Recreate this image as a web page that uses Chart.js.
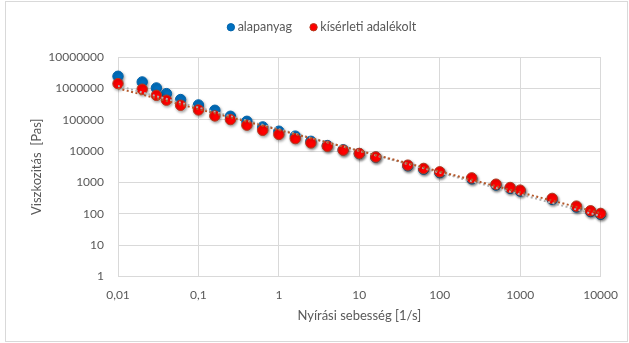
<!DOCTYPE html>
<html>
<head>
<meta charset="utf-8">
<script src="https://cdn.jsdelivr.net/npm/chart.js@4.4.1/dist/chart.umd.min.js"></script>
<style>
  html, body { margin: 0; padding: 0; background: #ffffff; }
  #wrap { position: relative; width: 629px; height: 343px; }
  #frame { position: absolute; left: 5px; top: 1px; width: 621px; height: 339px; border: 1px solid #d9d9d9; }
  #c { position: absolute; left: 0; top: 0; }
</style>
</head>
<body>
<div id="wrap">
  <div id="frame"></div>
  <canvas id="c" width="629" height="343"></canvas>
</div>
<script>
// Shear rate [1/s] of each measurement point
const shearRates = [0.01, 0.02, 0.03, 0.04, 0.06, 0.1, 0.16, 0.25, 0.4, 0.63, 1, 1.6, 2.5, 4, 6.3, 10, 16,
                    40, 63, 100, 250, 500, 750, 1000, 2500, 5000, 7500, 10000];

// Viscosity [Pas] – base material
const viscBase = [2.43e6, 1.6e6, 1.03e6, 6.8e5, 4.4e5, 2.96e5, 2.0e5, 1.29e5, 8.9e4, 5.9e4, 4.3e4, 3.0e4, 2.05e4,
                  1.5e4, 1.1e4, 8.3e3, 6.4e3, 3.4e3, 2.65e3, 2.05e3, 1.3e3, 830, 650, 530, 290, 165, 118, 97];

// Viscosity [Pas] – experimental, with additive
const viscAdditive = [1.42e6, 9.4e5, 6.0e5, 4.2e5, 2.9e5, 2.05e5, 1.32e5, 1.01e5, 6.7e4, 4.6e4, 3.4e4, 2.5e4, 1.82e4,
                      1.43e4, 1.07e4, 8.4e3, 6.5e3, 3.56e3, 2.8e3, 2.18e3, 1.4e3, 880, 690, 570, 310, 176, 125, 103];

// Power trend lines (straight in log–log), given by their end points
const trendShear = [0.01, 10000];
const trendBase = [1.2e6, 85];
const trendAdditive = [1.0e6, 105];

// Axis ticks and their labels
const xTickValues = [0.01, 0.1, 1, 10, 100, 1000, 10000];
const xTickLabels = ['0,01', '0,1', '1', '10', '100', '1000', '10000'];
const yTickValues = [1, 10, 100, 1000, 10000, 100000, 1000000, 10000000];
const yTickLabels = ['1', '10', '100', '1000', '10000', '100000', '1000000', '10000000'];

const seriesNames = ['alapanyag', 'kísérleti adalékolt'];

const textColor = '#595959';
const gridColor = '#d9d9d9';
const fontFamily = 'Lato, "Open Sans", sans-serif';

const toPoints = (xs, ys) => xs.map((x, i) => ({ x: x, y: ys[i] }));

// Soft drop shadow under the markers
const markerShadow = {
  id: 'markerShadow',
  beforeDatasetDraw(chart, args) {
    if (chart.data.datasets[args.index].showLine) return;
    const ctx = chart.ctx;
    ctx.save();
    ctx.shadowColor = 'rgba(0,0,0,0.35)';
    ctx.shadowBlur = 3;
    ctx.shadowOffsetX = 1;
    ctx.shadowOffsetY = 1.5;
  },
  afterDatasetDraw(chart, args) {
    if (chart.data.datasets[args.index].showLine) return;
    chart.ctx.restore();
  }
};

// Legend sits in the top band, slightly right of centre
const legendPlacement = {
  id: 'legendPlacement',
  afterLayout(chart) {
    const lg = chart.legend;
    if (!lg) return;
    lg.top -= 13.5; lg.bottom -= 13.5;
    lg.left += 8; lg.right += 8;
  }
};

new Chart(document.getElementById('c'), {
  type: 'scatter',
  data: {
    datasets: [
      {
        label: 'Hatvány (kísérleti adalékolt)',
        data: toPoints(trendShear, trendAdditive),
        showLine: true,
        borderColor: '#B4582A',
        borderWidth: 2,
        borderDash: [2, 2.5],
        pointRadius: 0,
        fill: false,
        order: 0
      },
      {
        label: 'Hatvány (alapanyag)',
        data: toPoints(trendShear, trendBase),
        showLine: true,
        borderColor: '#B0B0B0',
        borderWidth: 2,
        borderDash: [2, 2.5],
        pointRadius: 0,
        fill: false,
        order: 1
      },
      {
        label: seriesNames[1],
        data: toPoints(shearRates, viscAdditive),
        backgroundColor: '#FF0000',
        borderColor: '#B33A1E',
        borderWidth: 1,
        pointRadius: 5.2,
        pointHoverRadius: 5.2,
        clip: false,
        order: 2
      },
      {
        label: seriesNames[0],
        data: toPoints(shearRates, viscBase),
        backgroundColor: '#0070C0',
        borderColor: '#0063AA',
        borderWidth: 1,
        pointRadius: 5.2,
        pointHoverRadius: 5.2,
        clip: false,
        order: 3
      }
    ]
  },
  options: {
    responsive: false,
    animation: false,
    devicePixelRatio: 1,
    layout: { padding: { left: 29, right: 27.5, top: 13.5, bottom: 19 } },
    plugins: {
      tooltip: { enabled: false },
      legend: {
        position: 'top',
        labels: {
          usePointStyle: true,
          pointStyle: 'circle',
          boxWidth: 1,
          boxHeight: 5.2,
          padding: 21,
          color: textColor,
          font: { family: fontFamily, size: 12.5 },
          filter: (item) => seriesNames.includes(item.text),
          sort: (a, b) => seriesNames.indexOf(a.text) - seriesNames.indexOf(b.text)
        }
      }
    },
    scales: {
      x: {
        type: 'logarithmic',
        min: xTickValues[0],
        max: xTickValues[xTickValues.length - 1],
        afterBuildTicks: (scale) => { scale.ticks = xTickValues.map(v => ({ value: v })); },
        afterFit: (scale) => { scale.height = 47.5; },
        ticks: {
          autoSkip: false,
          maxRotation: 0,
          padding: 11,
          color: textColor,
          font: { family: fontFamily, size: 12 },
          callback: (value, index) => xTickLabels[index]
        },
        grid: { color: gridColor, lineWidth: 1, drawTicks: false },
        border: { display: false },
        title: {
          display: true,
          text: 'Nyírási sebesség [1/s]',
          color: textColor,
          font: { family: fontFamily, size: 13 },
          padding: 0
        }
      },
      y: {
        type: 'logarithmic',
        min: yTickValues[0],
        max: yTickValues[yTickValues.length - 1],
        afterBuildTicks: (scale) => { scale.ticks = yTickValues.map(v => ({ value: v })); },
        afterFit: (scale) => { scale.width = 89; },
        ticks: {
          autoSkip: false,
          padding: 14,
          color: textColor,
          font: { family: fontFamily, size: 12 },
          callback: (value, index) => yTickLabels[index]
        },
        grid: { color: gridColor, lineWidth: 1, drawTicks: false },
        border: { display: false },
        title: {
          display: true,
          text: 'Viszkozitás  [Pas]',
          color: textColor,
          font: { family: fontFamily, size: 13 },
          padding: 0
        }
      }
    }
  },
  plugins: [markerShadow, legendPlacement]
});
</script>
</body>
</html>
